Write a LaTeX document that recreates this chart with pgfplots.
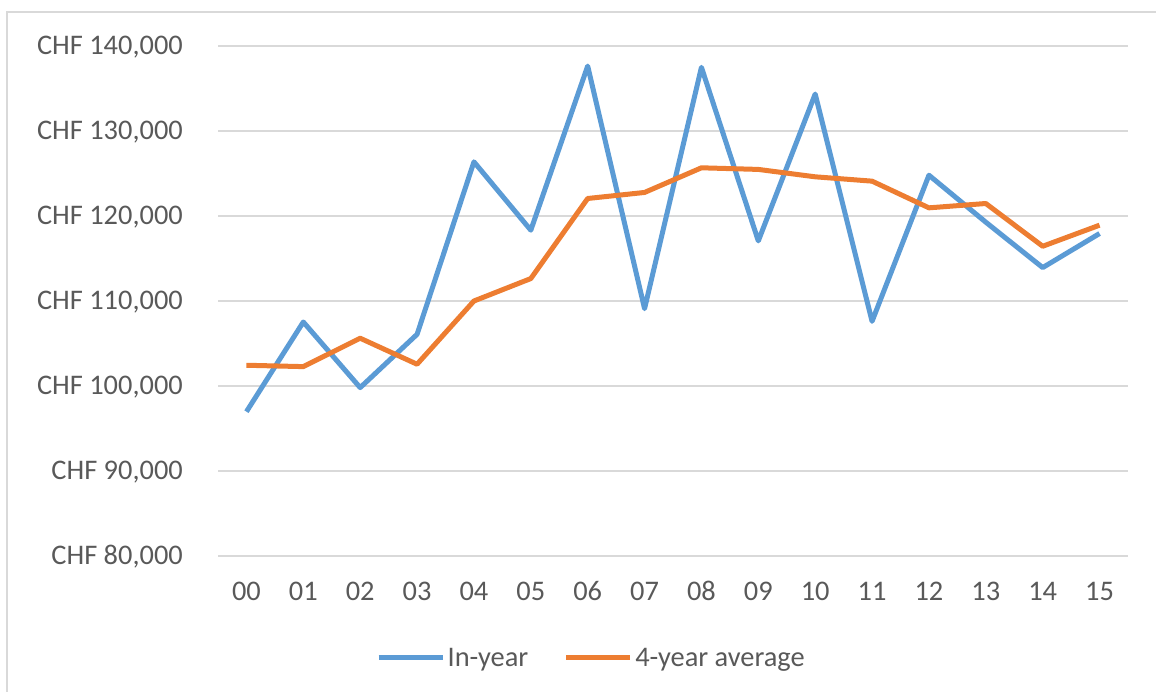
\documentclass[border=0pt]{standalone}
\usepackage{fontspec}
\setmainfont{Carlito}
\usepackage{pgfplots}
\pgfplotsset{compat=1.18}
\definecolor{exblue}{HTML}{5B9BD5}
\definecolor{exorange}{HTML}{ED7D31}
\definecolor{gridgray}{HTML}{D9D9D9}
\definecolor{txtgray}{HTML}{595959}
\begin{document}
\begin{tikzpicture}
\useasboundingbox (0,0) rectangle (1156bp,692bp);
\draw[gridgray, line width=1.5bp] (7bp,0bp) -- (7bp,680bp) -- (1160bp,680bp);
\begin{axis}[
  at={(218bp,136bp)}, anchor=south west,
  scale only axis, width=910bp, height=510bp,
  xmin=-0.5, xmax=15.5, ymin=80000, ymax=140000,
  scaled y ticks=false,
  axis line style={draw=none},
  major tick length=0pt,
  xtick={0,...,15},
  xticklabels={00,01,02,03,04,05,06,07,08,09,10,11,12,13,14,15},
  ytick={80000,90000,100000,110000,120000,130000,140000},
  yticklabels={CHF 80{,}000,CHF 90{,}000,CHF 100{,}000,CHF 110{,}000,CHF 120{,}000,CHF 130{,}000,CHF 140{,}000},
  ymajorgrids,
  grid style={gridgray, line width=1.3bp},
  ticklabel style={font=\fontsize{28.5}{33}\selectfont, text=txtgray, inner sep=0pt},
  xticklabel style={anchor=base, yshift=-44.5bp},
  yticklabel style={anchor=base east, xshift=-35bp, yshift=-8.8bp},
  legend style={draw=none, fill=none, at={(0.1736,-0.2)}, anchor=west,
    inner sep=0pt, font=\fontsize{28.5}{33}\selectfont, text=txtgray,
    nodes={inner xsep=2.5bp, inner ysep=0pt},
    /tikz/every even column/.append style={column sep=33bp}},
  legend columns=2,
  legend cell align=left,
  legend image code/.code={\draw[#1] (0bp,0bp) -- (64bp,0bp);},
  clip=false,
]
\addplot[exblue, line width=5bp, line join=round] coordinates {
(0,96980) (1,107530) (2,99810) (3,106080) (4,126370) (5,118330) (6,137640) (7,109100)
(8,137490) (9,117070) (10,134350) (11,107610) (12,124800) (13,119270) (14,113930) (15,117940)};
\addlegendentry{In-year}
\addplot[exorange, line width=5bp, line join=round] coordinates {
(0,102440) (1,102280) (2,105620) (3,102560) (4,110000) (5,112640) (6,122060) (7,122770)
(8,125670) (9,125480) (10,124610) (11,124100) (12,120960) (13,121470) (14,116440) (15,118920)};
\addlegendentry{4-year average}
\end{axis}
\end{tikzpicture}
\end{document}
